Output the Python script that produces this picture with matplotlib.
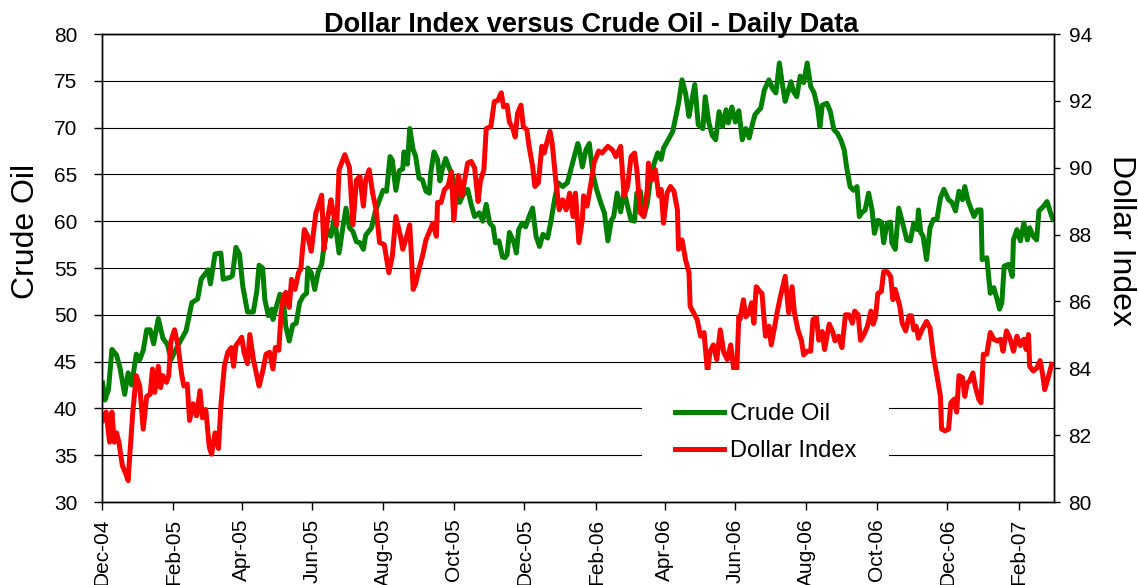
import numpy as np
import matplotlib
matplotlib.use("Agg")
import matplotlib.pyplot as plt
import matplotlib.dates as mdates

plt.rcParams['font.family'] = ['Liberation Sans', 'DejaVu Sans']

# ---- data (days since 2004-12-01, values) ----
oil_days = [1, 3, 6, 9, 13, 16, 20, 23, 26, 30, 33, 36, 39, 42, 45, 49, 53, 57, 60, 63, 69, 73, 78, 83, 86, 92, 94, 98,
            103, 105, 111, 113, 116, 119, 122, 126, 131, 134, 136, 139, 141, 144, 147, 148, 151, 154, 157, 159, 162,
            165, 168, 171, 174, 177, 178, 181, 184, 187, 190, 192, 195, 198, 201, 205, 208, 211, 214, 217, 220, 223,
            226, 228, 233, 236, 240, 243, 246, 249, 251, 254, 257, 260, 261, 264, 266, 269, 271, 274, 277, 280, 283,
            284, 287, 290, 292, 294, 297, 300, 303, 306, 309, 312, 316, 319, 322, 326, 329, 332, 335, 338, 340, 343,
            346, 348, 350, 352, 356, 358, 360, 363, 366, 369, 372, 375, 378, 381, 385, 388, 391, 394, 398, 402, 405,
            408, 411, 412, 415, 418, 421, 424, 427, 431, 434, 437, 440, 442, 445, 448, 451, 454, 457, 460, 462, 465,
            468, 471, 474, 477, 480, 483, 485, 490, 493, 495, 498, 501, 504, 507, 509, 512, 515, 519, 521, 524, 527,
            530, 533, 536, 539, 541, 544, 547, 550, 553, 556, 559, 562, 564, 569, 572, 576, 579, 582, 585, 587, 590,
            595, 597, 600, 603, 606, 609, 612, 615, 618, 620, 622, 626, 629, 632, 635, 638, 641, 643, 646, 649, 652,
            654, 656, 659, 662, 665, 667, 670, 673, 675, 678, 681, 682, 685, 688, 692, 695, 698, 701, 704, 705, 707,
            709, 712, 715, 718, 721, 724, 727, 731, 734, 737, 740, 743, 745, 748, 753, 756, 759, 760, 764, 767, 770,
            773, 775, 777, 779, 783, 786, 787, 790, 793, 796, 799, 801, 804, 807, 809, 813, 816, 819, 821]
oil_price = [42.7, 40.9, 42.0, 46.3, 45.7, 44.3, 41.5, 43.8, 42.5, 45.8, 45.2, 46.2, 48.4, 48.4, 46.9, 49.6, 47.5, 46.8,
             45.2, 46.0, 47.4, 48.3, 51.3, 51.7, 53.8, 54.8, 53.3, 56.5, 56.6, 53.8, 54.0, 54.2, 57.2, 56.5, 53.0,
             50.3, 50.3, 52.5, 55.3, 55.0, 51.6, 49.9, 50.6, 49.5, 50.9, 52.2, 51.6, 48.8, 47.2, 48.9, 49.1, 51.3,
             52.0, 52.3, 55.0, 54.5, 52.7, 54.6, 55.4, 57.3, 59.1, 58.4, 60.5, 56.6, 59.1, 61.4, 59.3, 58.9, 57.8,
             57.7, 57.0, 58.5, 59.3, 60.9, 62.3, 63.3, 63.2, 66.9, 66.5, 63.3, 65.4, 65.6, 67.4, 66.1, 69.9, 67.6,
             67.0, 64.6, 64.4, 63.2, 63.0, 65.1, 67.4, 66.6, 64.3, 65.5, 66.7, 65.7, 64.8, 63.2, 62.0, 62.8, 63.4,
             61.8, 60.5, 60.9, 60.0, 61.8, 59.8, 59.4, 57.7, 57.9, 56.2, 56.1, 56.4, 58.8, 57.7, 56.6, 59.1, 59.8,
             59.4, 60.5, 61.4, 58.4, 57.3, 58.6, 58.2, 60.1, 62.3, 64.1, 63.7, 64.1, 65.5, 66.9, 68.3, 67.9, 65.8,
             67.6, 68.3, 65.1, 63.5, 61.9, 60.9, 57.9, 60.1, 60.5, 63.0, 61.0, 63.2, 61.6, 60.1, 60.0, 63.0, 63.2,
             60.5, 61.9, 64.8, 66.2, 67.3, 66.6, 67.8, 68.9, 69.6, 70.8, 72.6, 75.1, 73.7, 71.2, 72.6, 74.6, 70.3,
             69.9, 73.3, 70.6, 69.2, 68.7, 71.7, 70.1, 71.9, 70.5, 72.2, 70.6, 71.8, 68.7, 69.9, 68.9, 70.5, 71.4,
             72.1, 74.0, 75.1, 74.2, 73.7, 76.9, 75.1, 72.8, 74.9, 73.9, 73.3, 75.5, 74.8, 76.9, 74.4, 73.7, 72.1,
             70.1, 72.4, 72.6, 71.7, 69.8, 69.4, 68.7, 67.6, 65.8, 63.7, 63.3, 63.7, 60.5, 60.9, 61.2, 63.0, 61.2,
             58.7, 60.1, 59.9, 57.7, 59.8, 59.9, 57.7, 57.0, 61.4, 59.5, 58.0, 57.9, 59.8, 59.1, 61.2, 58.8, 58.4,
             55.9, 59.3, 60.2, 60.2, 62.5, 63.4, 62.3, 62.0, 61.1, 63.2, 62.3, 63.7, 62.1, 60.5, 61.2, 61.2, 55.9,
             56.1, 52.3, 52.9, 51.6, 50.6, 51.3, 55.2, 55.4, 54.1, 58.0, 59.1, 57.9, 59.8, 58.0, 59.3, 58.4, 58.0,
             61.1, 61.6, 62.1, 60.9, 60.2]

usd_days = [1, 4, 7, 9, 11, 13, 15, 18, 21, 23, 24, 27, 30, 33, 36, 39, 42, 44, 46, 49, 51, 53, 56, 58, 60, 63, 66, 69,
            71, 74, 76, 79, 82, 85, 87, 90, 93, 95, 98, 101, 103, 106, 109, 112, 114, 116, 119, 121, 123, 126, 128,
            131, 134, 136, 139, 142, 145, 148, 150, 153, 155, 157, 159, 162, 164, 167, 170, 172, 175, 178, 181, 185,
            187, 190, 192, 195, 198, 200, 203, 205, 210, 214, 217, 220, 223, 226, 228, 231, 234, 237, 240, 244, 248,
            251, 254, 258, 260, 263, 266, 269, 271, 274, 277, 280, 283, 286, 289, 290, 293, 296, 299, 302, 304, 306,
            308, 311, 313, 316, 319, 322, 325, 327, 330, 332, 336, 339, 342, 345, 347, 350, 352, 355, 357, 359, 362,
            364, 367, 369, 372, 374, 377, 380, 382, 385, 387, 389, 392, 395, 398, 401, 404, 407, 409, 412, 415, 416,
            419, 422, 425, 429, 432, 437, 441, 444, 448, 451, 454, 457, 460, 462, 465, 468, 471, 472, 475, 478, 481,
            483, 485, 488, 491, 494, 497, 498, 501, 504, 507, 508, 511, 514, 517, 520, 523, 525, 528, 531, 534, 537,
            540, 543, 546, 548, 550, 551, 554, 556, 559, 561, 563, 565, 568, 570, 573, 576, 578, 581, 583, 586, 590,
            593, 596, 598, 601, 604, 606, 609, 612, 614, 617, 619, 622, 624, 628, 631, 633, 636, 639, 642, 645, 648,
            650, 653, 655, 658, 661, 664, 666, 668, 670, 673, 675, 678, 681, 683, 685, 689, 691, 694, 697, 699, 701,
            703, 705, 708, 712, 715, 718, 721, 724, 725, 728, 731, 733, 736, 738, 740, 743, 745, 747, 749, 752, 754,
            757, 759, 761, 764, 767, 770, 773, 776, 778, 781, 784, 787, 790, 793, 796, 798, 800, 801, 804, 807, 810,
            812, 814, 817, 820]
usd_index = [82.44, 82.69, 81.79, 82.69, 81.79, 82.07, 81.79, 81.09, 80.84, 80.64, 81.20, 82.69, 83.78, 83.47, 82.18,
             83.16, 83.22, 83.98, 83.28, 84.06, 83.42, 83.78, 83.58, 83.78, 84.82, 85.15, 84.68, 83.86, 83.47, 83.53,
             82.44, 82.94, 82.58, 83.33, 82.52, 82.77, 81.65, 81.43, 82.07, 81.60, 82.88, 84.06, 84.48, 84.62, 84.06,
             84.68, 84.82, 84.93, 84.48, 84.14, 85.01, 84.28, 83.78, 83.47, 83.89, 84.42, 84.48, 83.98, 84.62, 84.54,
             85.66, 86.16, 86.27, 85.82, 86.66, 86.36, 86.86, 86.97, 88.15, 87.95, 87.50, 88.65, 88.85, 89.18, 87.56,
             88.46, 89.04, 88.65, 88.29, 89.94, 90.39, 90.00, 88.29, 89.63, 89.74, 88.85, 89.63, 89.94, 89.24, 88.74,
             87.76, 87.70, 86.86, 87.36, 88.54, 87.95, 87.56, 87.90, 88.29, 86.36, 86.52, 86.97, 87.36, 87.84, 88.09,
             88.34, 87.95, 88.96, 88.96, 89.35, 89.44, 89.88, 88.43, 89.18, 89.77, 89.16, 89.55, 90.14, 90.19, 90.00,
             88.99, 89.60, 89.94, 91.17, 91.23, 91.98, 92.01, 92.24, 91.82, 91.87, 91.37, 91.17, 90.92, 91.62, 91.87,
             91.23, 91.14, 90.64, 90.05, 89.44, 89.55, 90.64, 90.44, 90.84, 91.09, 90.72, 89.63, 88.74, 89.04, 88.74,
             89.24, 88.54, 89.24, 87.76, 88.46, 89.16, 88.85, 89.44, 90.14, 90.50, 90.44, 90.64, 90.53, 90.33, 90.64,
             89.16, 89.44, 90.33, 90.44, 89.94, 88.65, 88.54, 89.35, 90.14, 89.63, 89.94, 89.16, 89.35, 88.34, 89.24,
             89.44, 89.30, 88.74, 87.56, 87.84, 87.25, 86.86, 85.85, 85.66, 85.46, 84.96, 85.07, 83.86, 84.48, 84.70,
             84.26, 85.15, 84.48, 84.26, 84.70, 83.86, 83.75, 85.54, 85.46, 86.05, 85.54, 85.66, 85.96, 85.35, 86.44,
             86.30, 86.24, 84.96, 85.26, 84.70, 85.26, 85.66, 86.16, 86.75, 85.66, 86.44, 85.66, 85.15, 84.84, 84.40,
             84.51, 84.51, 85.46, 85.52, 84.84, 85.10, 84.56, 85.32, 85.10, 84.82, 84.96, 84.62, 85.60, 85.60, 85.35,
             85.71, 85.60, 84.84, 85.01, 85.26, 85.71, 85.32, 85.54, 86.24, 86.30, 86.89, 86.89, 86.75, 86.05, 86.36,
             85.85, 85.35, 85.12, 85.57, 85.57, 85.15, 85.26, 84.90, 85.15, 85.40, 85.21, 84.37, 83.78, 83.16, 82.18,
             82.13, 82.18, 82.97, 83.08, 82.69, 83.78, 83.72, 83.16, 83.56, 83.61, 83.86, 83.47, 83.08, 82.97, 84.42,
             84.42, 85.07, 84.87, 84.82, 84.87, 84.51, 85.12, 84.90, 84.51, 84.96, 84.68, 84.87, 84.56, 85.01, 84.06,
             83.92, 84.00, 84.23, 83.86, 83.36, 83.72, 84.12]

start_date = np.datetime64('2004-12-01')
end_day = 822
oil_ticks = [30, 35, 40, 45, 50, 55, 60, 65, 70, 75, 80]
usd_ticks = [80, 82, 84, 86, 88, 90, 92, 94]

oil_dates = start_date + np.array(oil_days).astype('timedelta64[D]')
usd_dates = start_date + np.array(usd_days).astype('timedelta64[D]')

W, H = 1138, 585
fig = plt.figure(figsize=(W / 100, H / 100), dpi=100)
ax = fig.add_axes([101.5 / W, 1 - 502 / H, (1054 - 101.5) / W, (502 - 34) / H])
ax2 = ax.twinx()

green = '#008000'
red = '#FF0000'
l1, = ax.plot(oil_dates, oil_price, color=green, lw=3.6, solid_joinstyle='round', label='Crude Oil')
l2, = ax2.plot(usd_dates, usd_index, color=red, lw=3.6, solid_joinstyle='round', label='Dollar Index')

ax.set_xlim(start_date, start_date + np.timedelta64(end_day, 'D'))
ax.set_ylim(30, 80)
ax2.set_ylim(80, 94)
ax.set_yticks(oil_ticks)
ax2.set_yticks(usd_ticks)

ax.xaxis.set_major_locator(mdates.MonthLocator(bymonth=[2, 4, 6, 8, 10, 12]))
ax.xaxis.set_major_formatter(mdates.DateFormatter('%b-%y'))
for lab in ax.get_xticklabels():
    lab.set_rotation(90)

ax.yaxis.grid(True, color='black', lw=0.8)
ax.set_axisbelow(True)

for a in (ax, ax2):
    for s in a.spines.values():
        s.set_linewidth(1.0)
        s.set_color('black')

ax.tick_params(axis='y', direction='out', length=5.5, width=1, labelsize=15, pad=12)
ax.tick_params(axis='x', direction='out', length=6, width=1, labelsize=15, pad=6, labelrotation=90)
ax2.tick_params(axis='y', direction='out', length=4.5, width=1, labelsize=15, pad=6)

fig.text(591.5 / W, 1 - 32 / H, 'Dollar Index versus Crude Oil - Daily Data', ha='center', va='baseline',
         fontsize=19.5, fontweight='bold')
fig.text(26 / W, 1 - 231 / H, 'Crude Oil', rotation=90, ha='center', va='center', fontsize=23)
fig.text(1121 / W, 1 - 240 / H, 'Dollar Index', rotation=270, ha='center', va='center', fontsize=23)

leg = ax2.legend(handles=[l1, l2], loc='center', bbox_to_anchor=(765.5 / W, 1 - 432.5 / H),
                 bbox_transform=fig.transFigure, fontsize=17, frameon=True, fancybox=False,
                 facecolor='white', edgecolor='none', framealpha=1, borderpad=1.4,
                 handlelength=2.08, handletextpad=0.25, labelspacing=0.62)
leg.set_zorder(10)

fig.savefig('out.png', dpi=100)
